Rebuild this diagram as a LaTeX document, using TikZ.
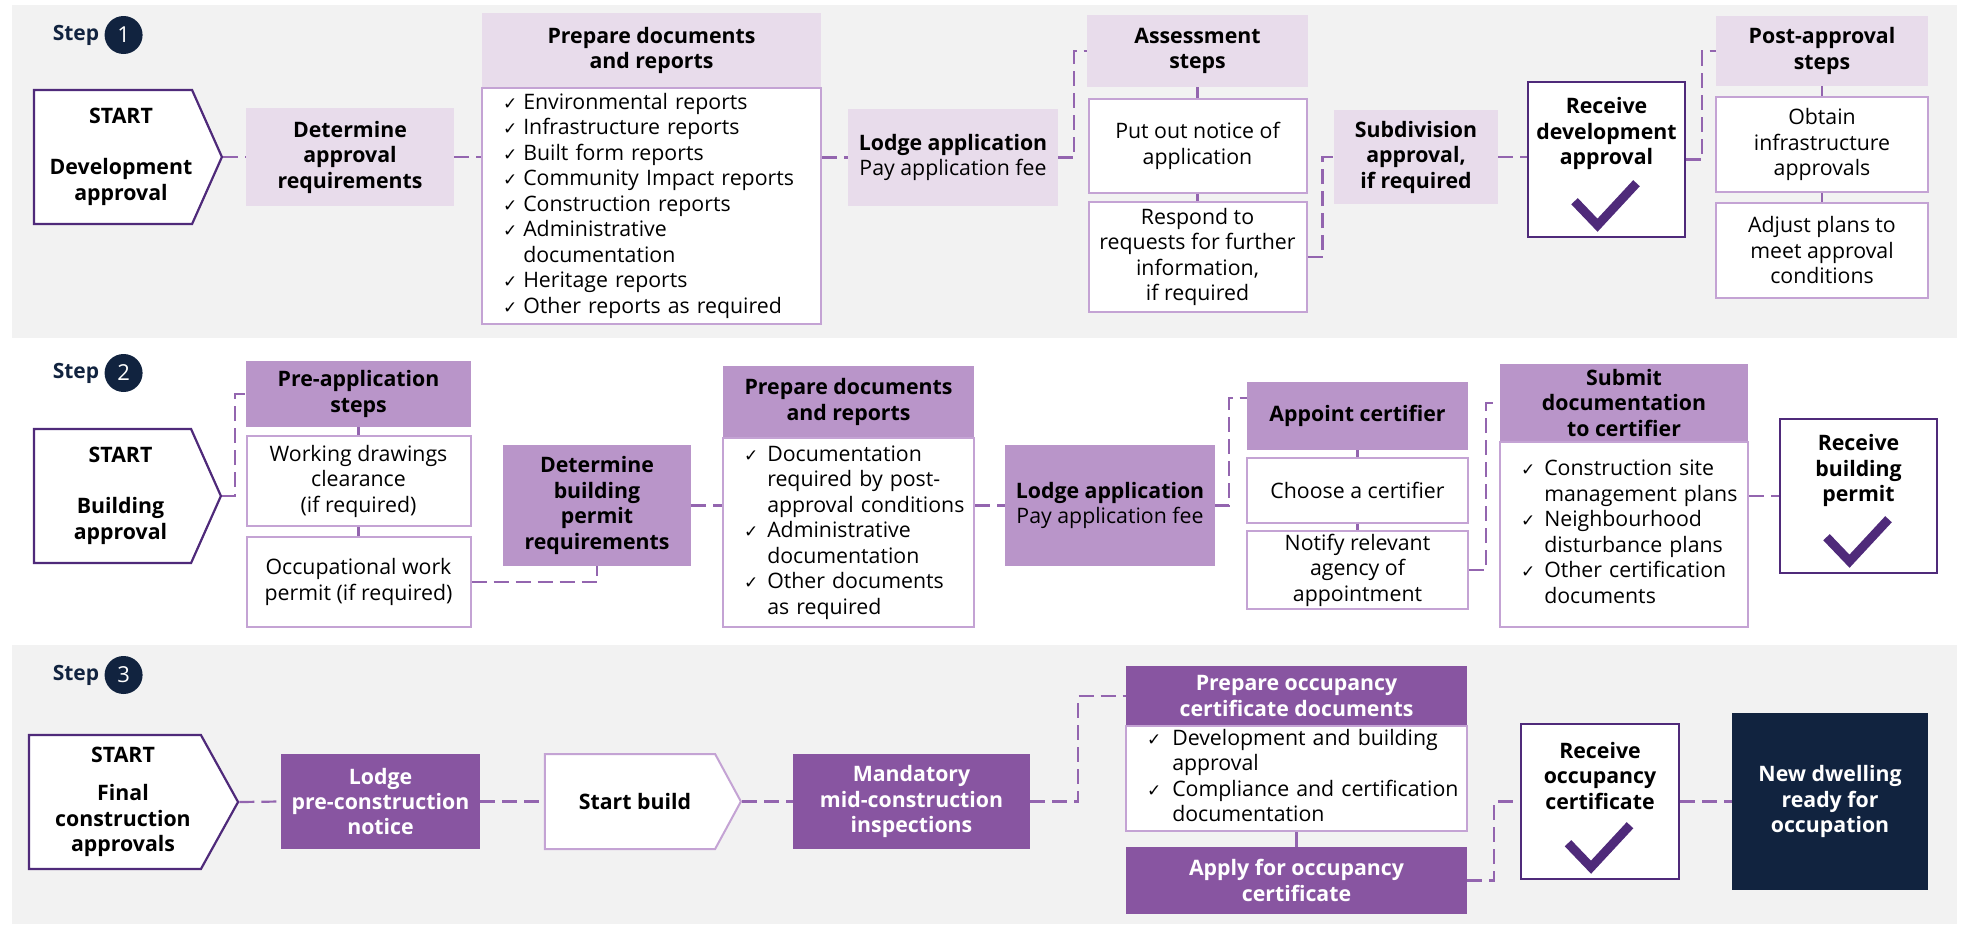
\documentclass[tikz,border=0pt]{standalone}
\usepackage{fontspec}
\setmainfont{Open Sans}
\newfontfamily\symfont{DejaVu Sans}
\usepackage{tikz}
\usetikzlibrary{shapes,arrows,positioning}

\definecolor{lavlight}{HTML}{E8DCEB}
\definecolor{lavmid}{HTML}{B995C9}
\definecolor{lavdeep}{HTML}{8855A1}
\definecolor{navy}{HTML}{11233F}
\definecolor{darkpurple}{HTML}{4F2A7A}
\definecolor{lightborder}{HTML}{C4A3D4}
\definecolor{linkcol}{HTML}{9365AF}
\definecolor{bandgrey}{HTML}{F2F2F2}

\newcommand{\bodyfont}{\fontsize{21.3}{25.5}\selectfont}
\newcommand{\chk}{{\symfont\fontsize{17}{17}\selectfont ✓}}

\begin{document}
\begin{tikzpicture}[x=1pt,y=1pt]
		\tikzstyle{every node}=[inner sep=0pt, align=center, font=\bodyfont];
		\tikzstyle{startbox}=[signal, signal to=east, draw=darkpurple, fill=white, line width=2.2pt];
		\tikzstyle{starttext}=[font=\bodyfont\bfseries, xshift=8pt];
		\tikzstyle{palebox}=[fill=lavlight, font=\bodyfont\bfseries];
		\tikzstyle{midbox}=[fill=lavmid, font=\bodyfont\bfseries];
		\tikzstyle{deepbox}=[fill=lavdeep, text=white, font=\bodyfont\bfseries];
		\tikzstyle{plainbox}=[draw=lightborder, fill=white, line width=2pt];
		\tikzstyle{listbox}=[plainbox, align=left, inner xsep=21pt];
		\tikzstyle{okbox}=[draw=darkpurple, fill=white, line width=2.4pt];
		\tikzstyle{oktext}=[font=\bodyfont\bfseries];
		\tikzstyle{okmark}=[draw=darkpurple, line width=9pt];
		\tikzstyle{link}=[draw=linkcol, line width=2.2pt, dash pattern=on 15pt off 7pt];
		\tikzstyle{steplabel}=[text=navy, font=\fontsize{21}{25}\selectfont\bfseries];
		\tikzstyle{stepnum}=[circle, fill=navy, text=white, minimum size=38pt, font=\fontsize{22}{25}\selectfont];

		\useasboundingbox (0,0) rectangle (1964,-926);
		% grey bands behind steps 1 and 3
		\fill[bandgrey] (12,-5) rectangle (1957,-338);
		\fill[bandgrey] (12,-645) rectangle (1957,-924);

		% step 1: development approval
		\node[steplabel] (step1) at (76,-35) {Step};
		\node[stepnum, right=5pt of step1] {1};
		\node[startbox, minimum width=188, minimum height=134, signal pointer angle=132,
			label={[starttext]center:{START\\[25.5pt]Development\\approval}}] (start1) at (113,-157) {};
		\node[palebox, minimum width=208, minimum height=98] (det1) at (350,-157) {Determine\\approval\\requirements};
		\node[palebox, minimum width=339, minimum height=75] (prep1h) at (651.5,-50.5) {Prepare documents\\and reports};
		\node[listbox, minimum height=236, text width=297] (prep1b) at (651.5,-206) {%
			\begin{tabular}{@{}l@{\hspace{6pt}}l@{}}
			\chk & Environmental reports\\
			\chk & Infrastructure reports\\
			\chk & Built form reports\\
			\chk & Community Impact reports\\
			\chk & Construction reports\\
			\chk & Administrative\\
			     & documentation\\
			\chk & Heritage reports\\
			\chk & Other reports as required
			\end{tabular}};
		\node[palebox, minimum width=210, minimum height=97, font=\bodyfont] (lodge1) at (953,-157.5) {\textbf{Lodge application}\\Pay application fee};
		\node[palebox, minimum width=221, minimum height=72] (assh) at (1197.5,-51) {Assessment\\steps};
		\node[plainbox, minimum width=218, minimum height=94] (notice) at (1197.5,-146) {Put out notice of\\application};
		\node[plainbox, minimum width=218, minimum height=110] (respond) at (1197.5,-257) {Respond to\\requests for further\\information,\\if required};
		\node[palebox, minimum width=164, minimum height=94] (subdiv) at (1416,-157) {Subdivision\\approval,\\if required};
		\node[okbox, minimum width=157, minimum height=155] (rda) at (1606.5,-159.5) {};
		\node[oktext] at ([yshift=-53]rda.north) {Receive\\development\\approval};
		\node[palebox, minimum width=212, minimum height=70] (posth) at (1822,-51) {Post-approval\\steps};
		\node[plainbox, minimum width=212, minimum height=95] (obtain) at (1822,-144.5) {Obtain\\infrastructure\\approvals};
		\node[plainbox, minimum width=212, minimum height=95] (adjust) at (1822,-250.5) {Adjust plans to\\meet approval\\conditions};

		\draw[link] (start1.east) -- (det1.west);
		\draw[link] (det1.east) -- (det1.east -| prep1b.west);
		\draw[link] (lodge1.west -| prep1b.east) -- (lodge1.west);
		\draw[link] (lodge1.east) -- ++(16,0) |- (assh.west);
		\draw[link] (assh.south) -- (notice.north);
		\draw[link] (notice.south) -- (respond.north);
		\draw[link] (respond.east) -- ++(15,0) |- (subdiv.west);
		\draw[link] (subdiv.east) -- (subdiv.east -| rda.west);
		\draw[link] (rda.east) -- ++(16,0) |- (posth.west);
		\draw[link] (posth.south) -- (obtain.north);
		\draw[link] (obtain.south) -- (adjust.north);

		% step 2: building approval
		\node[steplabel] (step2) at (76,-373) {Step};
		\node[stepnum, right=5pt of step2] {2};
		\node[startbox, minimum width=187, minimum height=134, signal pointer angle=132,
			label={[starttext]center:{START\\[25.5pt]Building\\approval}}] (start2) at (112.5,-496) {};
		\node[midbox, minimum width=225, minimum height=66] (preh) at (358.5,-394) {Pre-application\\steps};
		\node[plainbox, minimum width=224, minimum height=90] (work) at (358.5,-481) {Working drawings\\clearance\\(if required)};
		\node[plainbox, minimum width=224, minimum height=90] (occ) at (358.5,-582) {Occupational work\\permit (if required)};
		\node[midbox, minimum width=188, minimum height=121] (det2) at (597,-505.5) {Determine\\building\\permit\\requirements};
		\node[midbox, minimum width=251, minimum height=72] (prep2h) at (848.5,-402) {Prepare documents\\and reports};
		\node[listbox, minimum height=189, text width=209] (prep2b) at (848.5,-532.5) {%
			\begin{tabular}{@{}l@{\hspace{9pt}}l@{}}
			\chk & Documentation\\
			     & required by post-\\
			     & approval conditions\\
			\chk & Administrative\\
			     & documentation\\
			\chk & Other documents\\
			     & as required
			\end{tabular}};
		\node[midbox, minimum width=210, minimum height=121, font=\bodyfont] (lodge2) at (1110,-505.5) {\textbf{Lodge application}\\Pay application fee};
		\node[midbox, minimum width=221, minimum height=68] (apph) at (1357.5,-416) {Appoint certifier};
		\node[plainbox, minimum width=221, minimum height=65] (choose) at (1357.5,-490.5) {Choose a certifier};
		\node[plainbox, minimum width=221, minimum height=78] (notify) at (1357.5,-570) {Notify relevant\\agency of\\appointment};
		\node[midbox, minimum width=248, minimum height=78] (subh) at (1624,-403) {Submit\\documentation\\to certifier};
		\node[listbox, minimum height=185, text width=206] (subb) at (1624,-534.5) {%
			\begin{tabular}{@{}l@{\hspace{9pt}}l@{}}
			\chk & Construction site\\
			     & management plans\\
			\chk & Neighbourhood\\
			     & disturbance plans\\
			\chk & Other certification\\
			     & documents
			\end{tabular}};
		\node[okbox, minimum width=157, minimum height=154] (rbp) at (1858.5,-496) {};
		\node[oktext] at ([yshift=-53]rbp.north) {Receive\\building\\permit};

		\draw[link] (start2.east) -- ++(13,0) |- (preh.west);
		\draw[link] (preh.south) -- (work.north);
		\draw[link] (work.south) -- (occ.north);
		\draw[link] (occ.east) -| (det2.south);
		\draw[link] (det2.east) -- (det2.east -| prep2b.west);
		\draw[link] (lodge2.west -| prep2b.east) -- (lodge2.west);
		\draw[link] (lodge2.east) -- ++(14,0) |- ([yshift=18]apph.west);
		\draw[link] (apph.south) -- (choose.north);
		\draw[link] (choose.south) -- (notify.north);
		\draw[link] (notify.east) -- ++(17,0) |- (subh.west);
		\draw[link] (subb.east |- rbp.west) -- (rbp.west);

		% step 3: final construction approvals
		\node[steplabel] (step3) at (76,-675) {Step};
		\node[stepnum, right=5pt of step3] {3};
		\node[startbox, minimum width=209, minimum height=134, signal pointer angle=122,
			label={[starttext]center:{START\\[13pt]Final\\construction\\approvals}}] (start3) at (115,-802) {};
		\node[deepbox, minimum width=199, minimum height=95] (lpc) at (380.5,-801.5) {Lodge\\pre-construction\\notice};
		\node[startbox, draw=lightborder, line width=2pt, minimum width=196, minimum height=95, signal pointer angle=123,
			label={[starttext, xshift=-3pt]center:Start build}] (sb) at (630,-801.5) {};
		\node[deepbox, minimum width=237, minimum height=95] (mand) at (911.5,-801.5) {Mandatory\\mid-construction\\inspections};
		\node[deepbox, minimum width=341, minimum height=60] (pocch) at (1296.5,-696) {Prepare occupancy\\certificate documents};
		\node[listbox, minimum height=105, text width=299] (poccb) at (1296.5,-778.5) {%
			\begin{tabular}{@{}l@{\hspace{11pt}}l@{}}
			\chk & Development and building\\
			     & approval\\
			\chk & Compliance and certification\\
			     & documentation
			\end{tabular}};
		\node[deepbox, minimum width=341, minimum height=67] (apply) at (1296.5,-880.5) {Apply for occupancy\\certificate};
		\node[okbox, minimum width=158, minimum height=155] (roc) at (1600,-801.5) {};
		\node[oktext] at ([yshift=-53]roc.north) {Receive\\occupancy\\certificate};
		\node[deepbox, fill=navy, minimum width=196, minimum height=177] (newd) at (1830,-801.5) {New dwelling\\ready for\\occupation};

		\draw[link] (start3.east) -- (lpc.west);
		\draw[link] (lpc.east) -- (sb.west);
		\draw[link] (sb.east) -- (mand.west);
		\draw[link] (mand.east) -- ++(48,0) |- (pocch.west);
		\draw[link] (poccb.south) -- (apply.north);
		\draw[link] (apply.east) -- ++(27,0) |- (roc.west);
		\draw[link] (roc.east) -- (newd.west);

		% ticks in the approval boxes
		\foreach \b in {rda,rbp,roc}
			\draw[okmark] ([shift={(-32,37)}]\b.south) -- ([shift={(-9,13)}]\b.south) -- ([shift={(30,55)}]\b.south);
	\end{tikzpicture}
\end{document}
